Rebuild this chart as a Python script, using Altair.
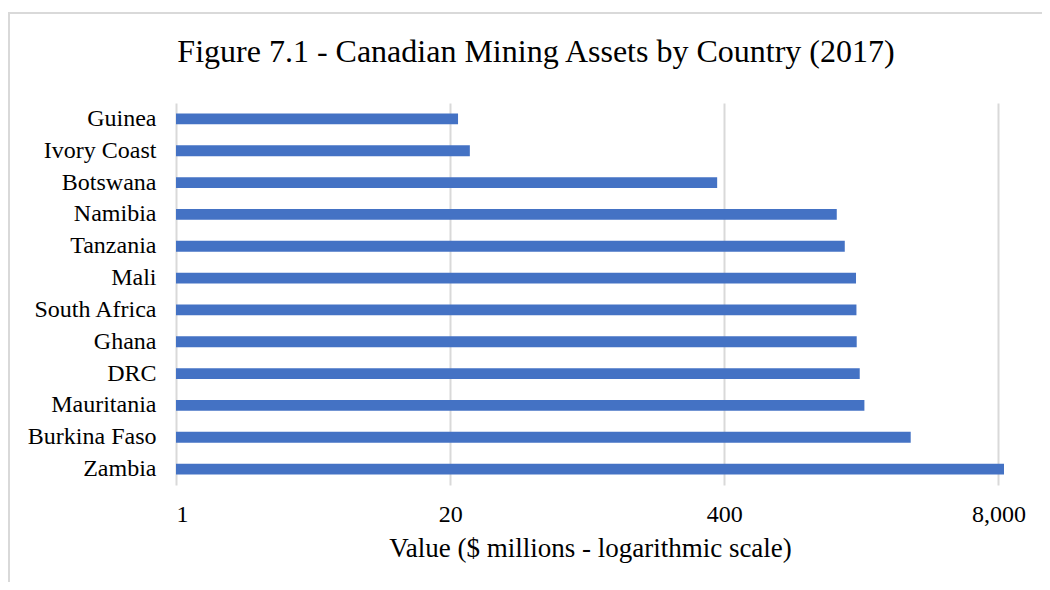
import altair as alt
import pandas as pd

countries = ["Guinea", "Ivory Coast", "Botswana", "Namibia", "Tanzania", "Mali",
             "South Africa", "Ghana", "DRC", "Mauritania", "Burkina Faso", "Zambia"]
values = [21.8, 24.8, 370, 1367, 1492, 1687, 1695, 1700, 1757, 1849, 3067, 8500]
tick_values = [1, 20, 400, 8000]
title_text = "Figure 7.1 - Canadian Mining Assets by Country (2017)"

df = pd.DataFrame({"country": countries, "value": values, "base": [1] * len(countries)})
single = pd.DataFrame({"title": [title_text]})

FONT = "Liberation Serif"

bars = alt.Chart(df).mark_bar(color="#4472C4").encode(
    y=alt.Y("country:N", sort=countries, title=None,
            scale=alt.Scale(paddingInner=0.66, paddingOuter=0.33),
            axis=alt.Axis(labelFont=FONT, labelFontSize=24, labelColor="#000000",
                          labelPadding=20, ticks=False, domain=False, grid=False)),
    x=alt.X("value:Q", title="Value ($ millions - logarithmic scale)",
            scale=alt.Scale(type="log", domain=[1, 8500], nice=False),
            axis=alt.Axis(values=tick_values, format=",", labelFont=FONT, labelFontSize=24,
                          labelColor="#000000", labelPadding=17, ticks=False, domain=False,
                          grid=True, gridColor="#d9d9d9", gridWidth=2,
                          titleFont=FONT, titleFontSize=27, titleFontWeight="normal",
                          titleColor="#000000", titlePadding=9)),
    x2="base:Q",
)

frame = alt.Chart(single).mark_rect(fillOpacity=0, stroke="#d9d9d9", strokeWidth=2, clip=False).encode(
    x=alt.value(-167), x2=alt.value(900), y=alt.value(-90), y2=alt.value(600)
)

title = alt.Chart(single).mark_text(font=FONT, fontSize=32, color="#000000",
                                    align="center", baseline="middle").encode(
    text="title:N", x=alt.value(360), y=alt.value(-51)
)

chart = alt.layer(frame, bars, title).properties(
    width=828, height=382,
    autosize=alt.AutoSizeParams(type="none"),
    padding={"left": 168, "top": 95, "right": 38, "bottom": 97},
).configure_view(stroke=None)

chart.save("out.html", embed_options={"renderer": "svg", "actions": False})
